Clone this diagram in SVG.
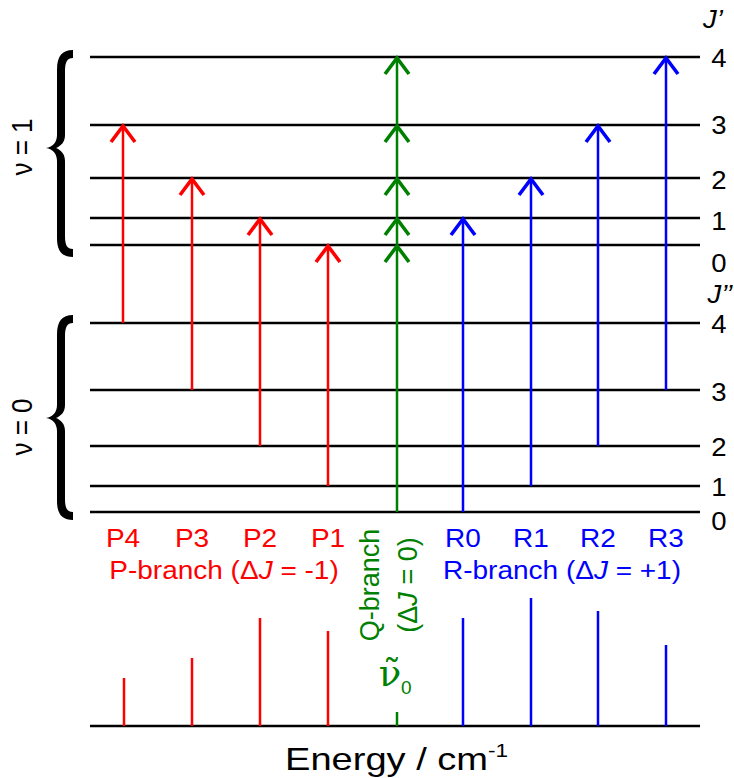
<svg xmlns="http://www.w3.org/2000/svg" width="734" height="778" viewBox="0 0 734 778">
<style>
.lvl{stroke:#000;stroke-width:2.6;fill:none}
.sh{stroke-width:2.5;fill:none}
.hd{stroke-width:3.6;fill:none;stroke-linejoin:miter;stroke-miterlimit:10}
.r{stroke:#ff0000}.g{stroke:#008000}.b{stroke:#0000ff}
.t{font-family:"Liberation Sans",Arial,sans-serif;font-size:25px}
.tr{fill:#ff0000}.tg{fill:#008000}.tb{fill:#0000ff}.tk{fill:#000}
.i{font-style:italic}
</style>
<rect width="734" height="778" fill="#fff"/>
<g id="levels">
<g id="upper-levels" class="lvl">
<line x1="90" y1="57" x2="700" y2="57"/>
<line x1="90" y1="125" x2="700" y2="125"/>
<line x1="90" y1="178" x2="700" y2="178"/>
<line x1="90" y1="218" x2="700" y2="218"/>
<line x1="90" y1="245" x2="700" y2="245"/>
</g>
<g id="lower-levels" class="lvl">
<line x1="90" y1="323" x2="700" y2="323"/>
<line x1="90" y1="390" x2="700" y2="390"/>
<line x1="90" y1="446" x2="700" y2="446"/>
<line x1="90" y1="486" x2="700" y2="486"/>
<line x1="90" y1="512" x2="700" y2="512"/>
</g>
</g>
<g id="braces" fill="#000">
<path id="brace-v1" d="M73,50 C62,50 57,56 57,70 L57,135 C57,142 53,147 46,148 C53,149 57,154 57,161 L57,238 C57,251 62,257 73,257 L73,249 C67,249 65,245 65,236 L65,161 C65,154 61,150 56,148 C61,146 65,142 65,135 L65,72 C65,62 67,58 73,58 Z"/>
<path id="brace-v0" d="M73,315 C62,315 57,321 57,335 L57,405 C57,412 53,417 46,418 C53,419 57,424 57,431 L57,501 C57,514 62,520 73,520 L73,512 C67,512 65,508 65,499 L65,431 C65,424 61,420 56,418 C61,416 65,412 65,405 L65,337 C65,327 67,323 73,323 Z"/>
</g>
<g id="connectors">
<g id="P-transitions">
<line class="sh r" x1="123" y1="323" x2="123" y2="127"/><path class="hd r" d="M111,142 L123,126 L135,142"/>
<line class="sh r" x1="192" y1="390" x2="192" y2="180"/><path class="hd r" d="M180,195 L192,179 L204,195"/>
<line class="sh r" x1="260" y1="446" x2="260" y2="220"/><path class="hd r" d="M248,235 L260,219 L272,235"/>
<line class="sh r" x1="328" y1="486" x2="328" y2="247"/><path class="hd r" d="M316,262 L328,246 L340,262"/>
</g>
<g id="Q-transitions">
<line class="sh g" x1="397" y1="512" x2="397" y2="59"/>
<path class="hd g" d="M385,74 L397,58 L409,74"/>
<path class="hd g" d="M385,142 L397,126 L409,142"/>
<path class="hd g" d="M385,195 L397,179 L409,195"/>
<path class="hd g" d="M385,235 L397,219 L409,235"/>
<path class="hd g" d="M385,262 L397,246 L409,262"/>
</g>
<g id="R-transitions">
<line class="sh b" x1="463" y1="512" x2="463" y2="220"/><path class="hd b" d="M451,235 L463,219 L475,235"/>
<line class="sh b" x1="531" y1="486" x2="531" y2="180"/><path class="hd b" d="M519,195 L531,179 L543,195"/>
<line class="sh b" x1="598" y1="446" x2="598" y2="127"/><path class="hd b" d="M586,142 L598,126 L610,142"/>
<line class="sh b" x1="666" y1="390" x2="666" y2="59"/><path class="hd b" d="M654,74 L666,58 L678,74"/>
</g>
</g>
<g id="spectrum">
<line class="lvl" x1="90" y1="726" x2="700" y2="726"/>
<line class="sh r" x1="124" y1="678" x2="124" y2="726"/>
<line class="sh r" x1="192" y1="658" x2="192" y2="726"/>
<line class="sh r" x1="260" y1="618" x2="260" y2="726"/>
<line class="sh r" x1="328" y1="631" x2="328" y2="726"/>
<line class="sh g" x1="397" y1="712" x2="397" y2="726"/>
<line class="sh b" x1="463" y1="618" x2="463" y2="726"/>
<line class="sh b" x1="531" y1="598" x2="531" y2="726"/>
<line class="sh b" x1="598" y1="611" x2="598" y2="726"/>
<line class="sh b" x1="666" y1="645" x2="666" y2="726"/>
</g>
<g id="state-labels" class="t tk">
<text transform="translate(32,147) rotate(-90) scale(1,1.1)" text-anchor="middle" style="font-size:26px">ν = 1</text>
<text transform="translate(32,427) rotate(-90) scale(1,1.1)" text-anchor="middle" style="font-size:26px">ν = 0</text>
</g>
<g id="J-labels" class="t tk">
<text class="i" transform="translate(713,28) scale(1.1,1)" text-anchor="middle">J’</text>
<text transform="translate(719,67) scale(1.1,1)" text-anchor="middle">4</text>
<text transform="translate(719,134) scale(1.1,1)" text-anchor="middle">3</text>
<text transform="translate(719,189) scale(1.1,1)" text-anchor="middle">2</text>
<text transform="translate(719,230) scale(1.1,1)" text-anchor="middle">1</text>
<text transform="translate(719,272) scale(1.1,1)" text-anchor="middle">0</text>
<text class="i" transform="translate(720,303) scale(1.1,1)" text-anchor="middle">J’’</text>
<text transform="translate(719,333) scale(1.1,1)" text-anchor="middle">4</text>
<text transform="translate(719,401) scale(1.1,1)" text-anchor="middle">3</text>
<text transform="translate(719,456) scale(1.1,1)" text-anchor="middle">2</text>
<text transform="translate(719,496) scale(1.1,1)" text-anchor="middle">1</text>
<text transform="translate(719,530) scale(1.1,1)" text-anchor="middle">0</text>
</g>
<g id="P-labels" class="t tr">
<text transform="translate(123,547) scale(1.12,1)" text-anchor="middle">P4</text>
<text transform="translate(192,547) scale(1.12,1)" text-anchor="middle">P3</text>
<text transform="translate(260,547) scale(1.12,1)" text-anchor="middle">P2</text>
<text transform="translate(328,547) scale(1.12,1)" text-anchor="middle">P1</text>
<text transform="translate(224,579) scale(1.12,1)" text-anchor="middle">P-branch (Δ<tspan class="i">J</tspan> = -1)</text>
</g>
<g id="R-labels" class="t tb">
<text transform="translate(463,547) scale(1.12,1)" text-anchor="middle">R0</text>
<text transform="translate(531,547) scale(1.12,1)" text-anchor="middle">R1</text>
<text transform="translate(598,547) scale(1.12,1)" text-anchor="middle">R2</text>
<text transform="translate(666,547) scale(1.12,1)" text-anchor="middle">R3</text>
<text transform="translate(562,579) scale(1.12,1)" text-anchor="middle">R-branch (Δ<tspan class="i">J</tspan> = +1)</text>
</g>
<g id="Q-labels" class="t tg">
<text transform="translate(379,585) rotate(-90)" text-anchor="middle" style="font-size:27px">Q-branch</text>
<text transform="translate(417,585) rotate(-90)" text-anchor="middle" style="font-size:27px">(Δ<tspan class="i">J</tspan> = 0)</text>
<text x="390" y="686" text-anchor="middle" style="font-family:'DejaVu Serif',serif;font-size:37px">ν̃</text>
<text x="401" y="694" style="font-size:19px">0</text>
</g>
<g id="axis-label" class="t tk">
<text transform="translate(285,770) scale(1.19,1)" style="font-size:32px">Energy / cm<tspan dy="-13" style="font-size:19px">-1</tspan></text>
</g>
</svg>
